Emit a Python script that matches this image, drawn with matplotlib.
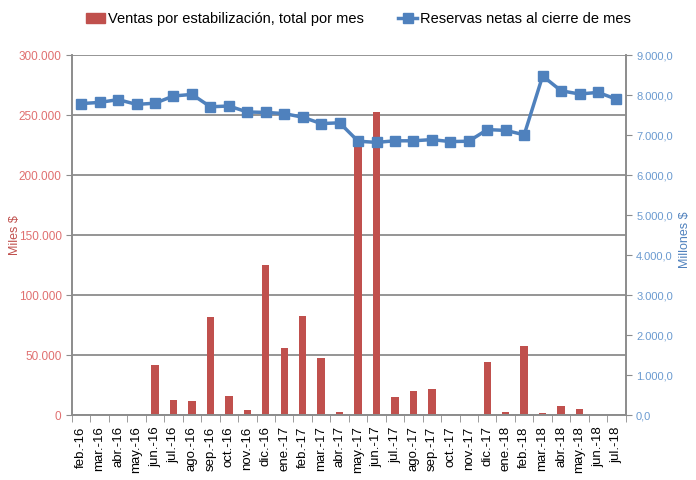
import numpy as np
import matplotlib
matplotlib.use("Agg")
import matplotlib.pyplot as plt
from matplotlib.ticker import FuncFormatter, MultipleLocator
from matplotlib.lines import Line2D
from matplotlib.patches import Patch

plt.rcParams['font.family'] = ['Liberation Sans', 'DejaVu Sans']

meses = ['feb.-16', 'mar.-16', 'abr.-16', 'may.-16', 'jun.-16', 'jul.-16', 'ago.-16',
         'sep.-16', 'oct.-16', 'nov.-16', 'dic.-16', 'ene.-17', 'feb.-17', 'mar.-17',
         'abr.-17', 'may.-17', 'jun.-17', 'jul.-17', 'ago.-17', 'sep.-17', 'oct.-17',
         'nov.-17', 'dic.-17', 'ene.-18', 'feb.-18', 'mar.-18', 'abr.-18', 'may.-18',
         'jun.-18', 'jul.-18']

# Ventas por estabilización (miles $)
ventas = [0, 0, 0, 0, 42000, 13000, 11500, 82000, 16000, 4000, 125000, 56000,
          83000, 47500, 2500, 230000, 253000, 15500, 20500, 21500, 0, 0,
          44500, 2500, 57500, 1500, 7500, 5000, 0, 0]

# Reservas netas al cierre de mes (millones $)
reservas = [7790, 7820, 7890, 7770, 7800, 7980, 8020, 7710, 7730, 7580, 7570,
            7540, 7450, 7290, 7310, 6850, 6820, 6860, 6860, 6890, 6840, 6850,
            7140, 7120, 7010, 8480, 8110, 8030, 8070, 7900]

rojo = '#C0504D'
azul = '#4F81BD'
gris = '#8C8C8C'

x = np.arange(len(meses))

fig = plt.figure(figsize=(6.96, 4.8), dpi=100)
ax = fig.add_axes([0.1034, 0.135, 0.7956, 0.75])
ax2 = ax.twinx()

ax.bar(x, ventas, width=0.4, color=rojo, zorder=2)
ax2.plot(x, reservas, color=azul, lw=2.5, marker='s', markersize=7, zorder=3)

ax.set_xlim(-0.5, len(meses) - 0.5)
ax.set_ylim(0, 300000)
ax2.set_ylim(0, 9000)

ax.yaxis.set_major_locator(MultipleLocator(50000))
ax2.yaxis.set_major_locator(MultipleLocator(1000))
ax.yaxis.set_major_formatter(FuncFormatter(lambda v, p: f"{int(v):,}".replace(',', '.')))
ax2.yaxis.set_major_formatter(FuncFormatter(lambda v, p: f"{v:,.1f}".replace(',', 'X').replace('.', ',').replace('X', '.')))

ax.grid(axis='y', color=gris, lw=1.3, zorder=0)
ax.set_axisbelow(True)

# etiquetas en el centro, marcas en los bordes de categoria
ax.set_xticks(x)
ax.set_xticklabels(meses, rotation=90, fontsize=9.5)
ax.tick_params(axis='x', length=0, pad=8)
ax.set_xticks(np.arange(-0.5, len(meses), 1), minor=True)
ax.tick_params(axis='x', which='minor', length=5, color=gris)

ax.tick_params(axis='y', colors='#E07070', labelsize=8.5, length=4)
ax.tick_params(axis='y', color=gris)
ax2.tick_params(axis='y', colors='#6A9AD0', labelsize=8, length=4)
ax2.tick_params(axis='y', color=gris)

for a in (ax, ax2):
    a.spines['top'].set_visible(False)
    for s in ('left', 'right', 'bottom'):
        a.spines[s].set_color(gris)
        a.spines[s].set_linewidth(1.2)

fig.text(15 / 696, 1 - 235 / 480, 'Miles $', color=rojo, fontsize=9,
         rotation=90, ha='center', va='center')
fig.text(685 / 696, 1 - 240 / 480, 'Millones $', color=azul, fontsize=9,
         rotation=90, ha='center', va='center')

handles = [Patch(color=rojo),
           Line2D([], [], color=azul, lw=2.5, marker='s', markersize=7)]
fig.legend(handles, ['Ventas por estabilización, total por mes', 'Reservas netas al cierre de mes'],
           loc='center', bbox_to_anchor=(0.515, 1 - 19 / 480), ncol=2, frameon=False,
           fontsize=10.5, handlelength=1.3, handletextpad=0.2, columnspacing=2.4)

fig.savefig('out.png', dpi=100)
